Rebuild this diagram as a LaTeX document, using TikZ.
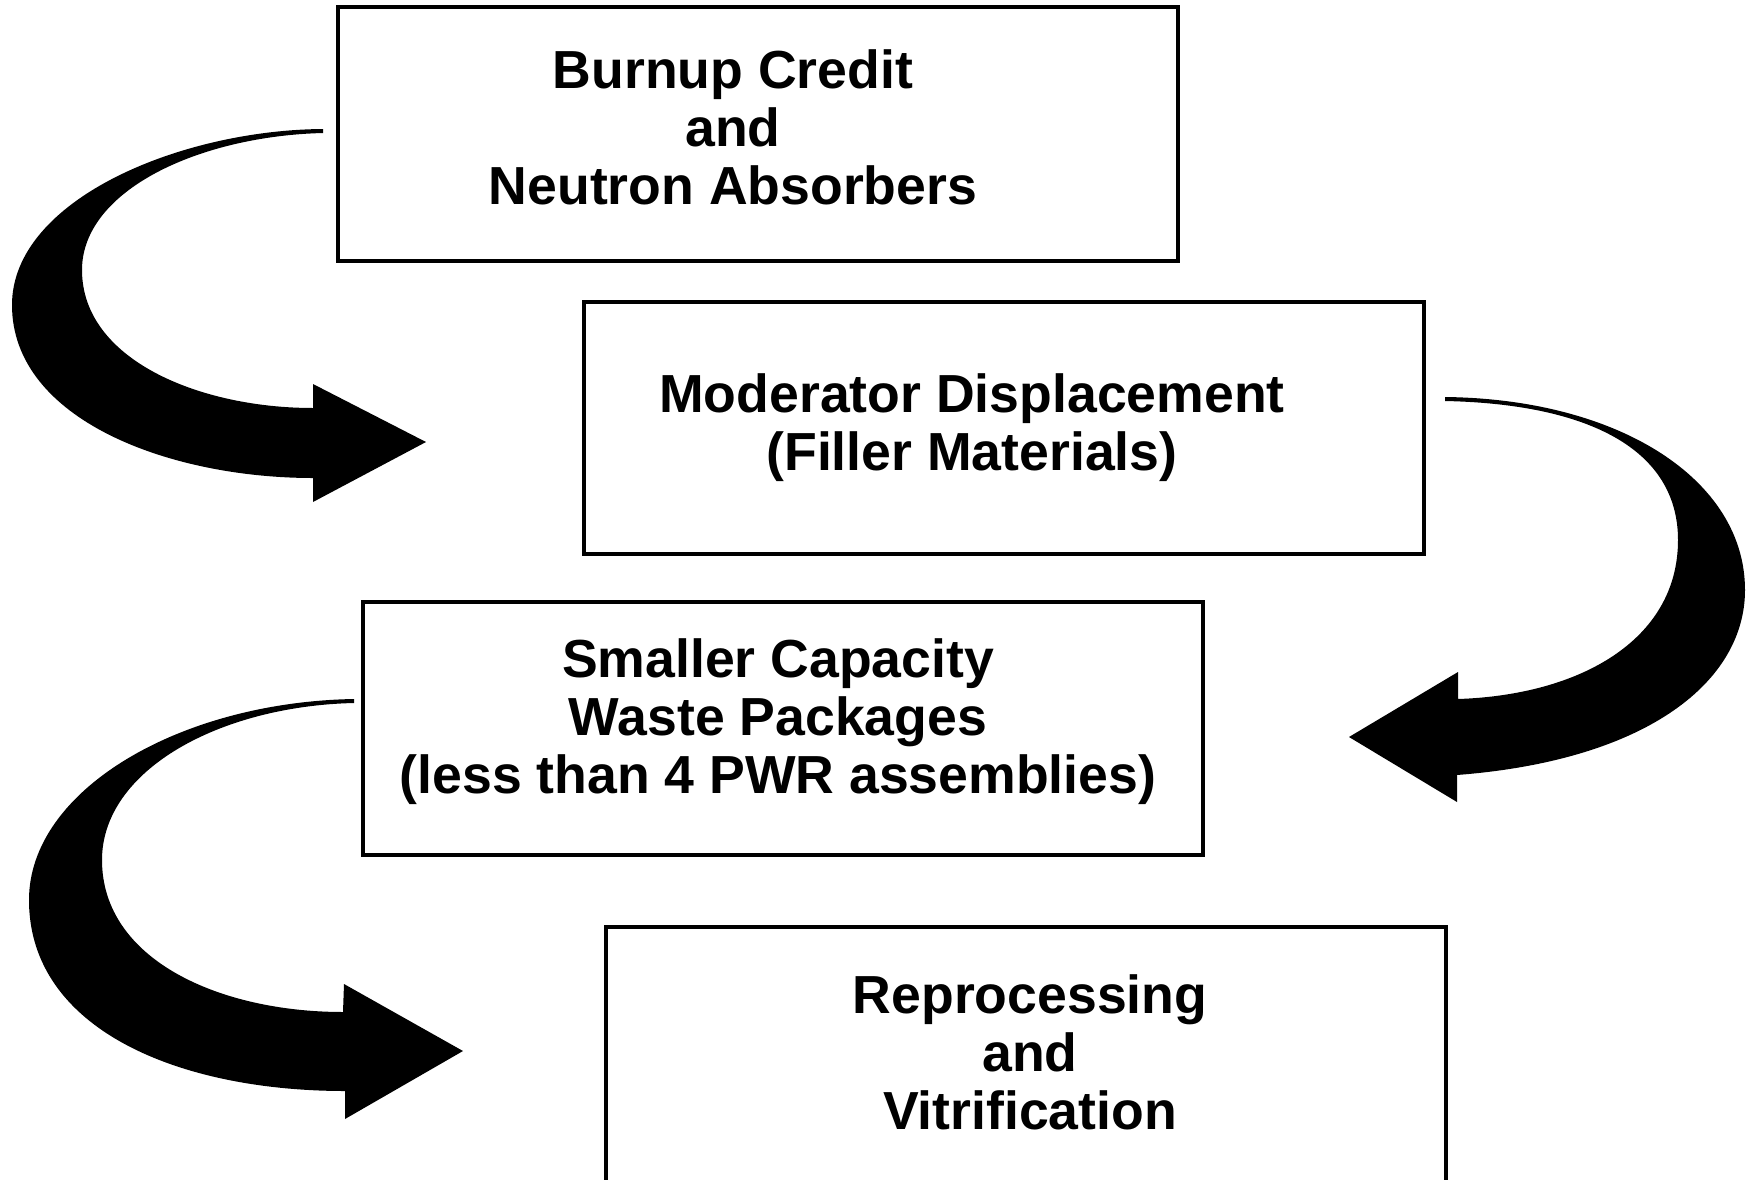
\documentclass[tikz,border=0pt]{standalone}
\usepackage{fontspec}
\setmainfont{Liberation Sans}
\usetikzlibrary{positioning}

\begin{document}
\begin{tikzpicture}[x=0.5pt, y=-0.5pt,
  stagebox/.style={rectangle, draw, line width=2.2pt, minimum width=420pt, inner sep=0pt},
  stagetext/.style={align=center, font=\fontsize{26.8}{29}\selectfont\bfseries},
  fatarrow/.style={fill=black, draw=none}
]
  \useasboundingbox (0,0) rectangle (1747,1179);
  \clip (0,0) rectangle (1747,1179);
  % boxes
  \node[stagebox, minimum height=127pt] (burnup) at (758,134) {};
  \node[stagebox, minimum height=126pt] (moderator) at (1004,428) {};
  \node[stagebox, minimum height=126.5pt] (smaller) at (783,728.5) {};
  \node[stagebox, minimum height=160pt] (reproc) at (1026,1087) {};
  % texts
  \node[stagetext] (burnuptxt) at (733,127) {Burnup Credit\\and\\Neutron Absorbers};
  \node[stagetext] (moderatortxt) at (972,428) {Moderator Displacement\\(Filler Materials)};
  \node[stagetext] (smallertxt) at (778,722) {Smaller Capacity\\Waste Packages\\(less than 4 PWR assemblies)};
  \node[stagetext] (reproctxt) at (1030,1052) {Reprocessing\\and\\Vitrification};
  % curved arrows
  \fill[fatarrow] (323,129) .. controls (180,130) and (12,200) .. (12,305)
    .. controls (12,420) and (170,478) .. (313,478)
    -- (313,502) -- (426,442) -- (313,384) -- (313,408)
    .. controls (200,408) and (82,360) .. (82,270)
    .. controls (82,190) and (200,136) .. (323,133) -- cycle;
  \fill[fatarrow] (1445,397) .. controls (1620,399) and (1745,480) .. (1745,590)
    .. controls (1745,680) and (1650,760) .. (1457,775)
    -- (1457,802) -- (1349,737) -- (1458,672) -- (1458,699)
    .. controls (1580,695) and (1678,640) .. (1678,540)
    .. controls (1678,450) and (1590,404) .. (1445,401) -- cycle;
  \fill[fatarrow] (354,699) .. controls (180,702) and (29,790) .. (29,900)
    .. controls (29,1030) and (180,1091) .. (345,1091)
    -- (345,1119) -- (463,1051) -- (344,984) -- (343,1012)
    .. controls (220,1012) and (102,960) .. (102,860)
    .. controls (102,770) and (220,706) .. (354,703) -- cycle;
\end{tikzpicture}
\end{document}
